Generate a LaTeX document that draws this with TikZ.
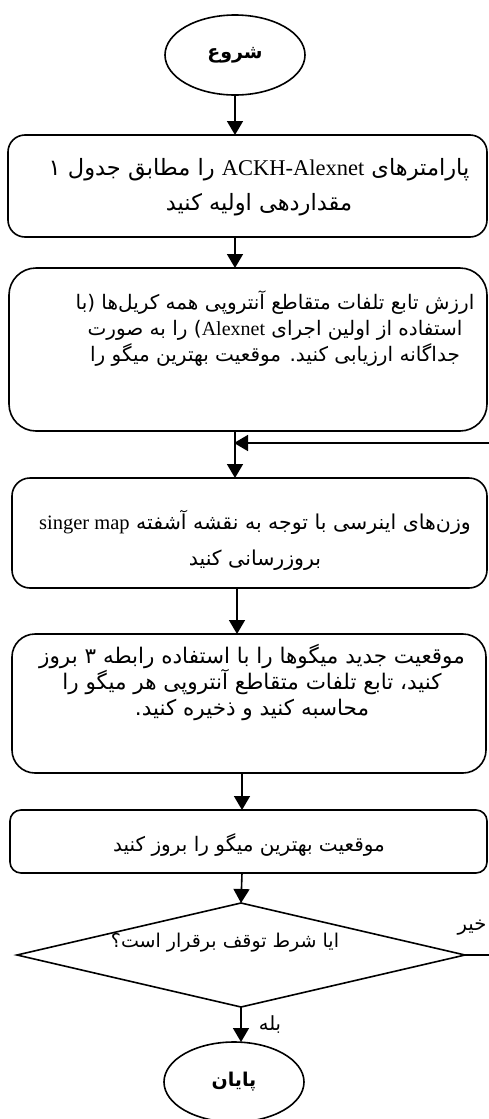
\documentclass[tikz,border=0pt]{standalone}
\usepackage{fontspec}
\setmainfont{Liberation Serif}
\newfontfamily\fa[Script=Arabic]{DejaVu Sans}
\TeXXeTstate=1
\usetikzlibrary{arrows.meta,shapes.geometric}
% Latin run inside a right-to-left line
\newcommand\lat[1]{\beginL{\rmfamily #1}\endL}

\tikzset{
  every node/.style={inner sep=0pt, outer sep=0pt},
  stepbox/.style={draw, line width=1.6pt, rounded corners=#1},
  terminal/.style={draw, line width=1.6pt, ellipse, minimum width=140pt, minimum height=80pt,
                   font=\fa\bfseries\fontsize{19}{22}\selectfont},
  decision/.style={draw, line width=1.6pt, diamond, minimum width=448pt, minimum height=104pt},
  txt/.style={align=center, font=\fa\fontsize{#1}{26}\selectfont},
  txt/.default=20.5,
  lbl/.style={font=\fa\fontsize{19.5}{22}\selectfont},
  arr/.style={line width=1.6pt, -{Triangle[width=16pt,length=14pt]}}
}

\begin{document}
\begin{tikzpicture}[x=1pt, y=-1pt]
  \path[clip] (0,0) rectangle (489,1119);
  \fill[white] (0,0) rectangle (489,1119);

  % column the main arrows run along
  \coordinate (axis) at (235,0);
  \coordinate (axisb) at (242,0);

  % terminals
  \node[terminal] (start) at (235,55) {\beginR شروع\endR};
  \node[terminal] (stop) at (234,1082) {\beginR پایان\endR};

  % process boxes
  \node[stepbox=17pt, minimum width=479pt, minimum height=102pt] (b1) at (247.5,186) {};
  \node[stepbox=27pt, minimum width=478pt, minimum height=163pt] (b2) at (248,349.5) {};
  \node[stepbox=18pt, minimum width=475pt, minimum height=110pt] (b3) at (249.5,533) {};
  \node[stepbox=23pt, minimum width=474pt, minimum height=139pt] (b4) at (249,703.5) {};
  \node[stepbox=11pt, minimum width=477pt, minimum height=63pt] (b5) at (248.5,841.5) {};

  % texts of the boxes
  \node[txt=22.5] (t1) at (259,187.5)
    {\beginR پارامترهای \lat{ACKH-Alexnet} را مطابق جدول ۱\endR\\[9pt]
     \beginR مقداردهی اولیه کنید\endR};
  \node[txt=20] (t2) at (275,329)
    {\beginR ارزش تابع تلفات متقاطع آنتروپی همه کریل^^^^200cها (با\endR\\
     \beginR استفاده از اولین اجرای \lat{Alexnet}) را به صورت\endR\\
     \beginR جداگانه ارزیابی کنید. موقعیت بهترین میگو را\endR};
  \node[txt=20.5] (t3) at (255,540)
    {\beginR وزن^^^^200cهای اینرسی با توجه به نقشه آشفته \lat{singer map}\endR\\[10pt]
     \beginR بروزرسانی کنید\endR};
  \node[txt=21.5] (t4) at (252,682)
    {\beginR موقعیت جدید میگوها را با استفاده رابطه ۳ بروز\endR\\
     \beginR کنید، تابع تلفات متقاطع آنتروپی هر میگو را\endR\\
     \beginR محاسبه کنید و ذخیره کنید.\endR};
  \node[txt=20] (t5) at (249,845)
    {\beginR موقعیت بهترین میگو را بروز کنید\endR};

  % decision
  \node[decision] (dec) at (241,955) {};
  \node[txt=19] (t6) at (225,943) {\beginR ایا شرط توقف برقرار است؟\endR};

  % branch labels
  \node[lbl] (no) at (472,928) {\beginR خیر\endR};
  \node[lbl] (yes) at (270,1025) {\beginR بله\endR};

  % connectors
  \draw[arr] (start.south) -- (start.south |- b1.north);
  \draw[arr] (b1.south -| axis) -- (b2.north -| axis);
  \draw[arr] (b2.south -| axis) -- (b3.north -| axis);
  \draw[arr] ([xshift=2pt]b3.south -| axis) -- ([xshift=2pt]b4.north -| axis);
  \draw[arr] (b4.south -| axisb) -- (b5.north -| axisb);
  \draw[arr] (b5.south -| axisb) -- (dec.north);
  \draw[arr] (dec.south) -- (dec.south |- stop.north);

  % loop back from the decision to the update step
  \coordinate (back) at (235,443);
  \draw[arr] (dec.east) -- (500,955) -- (500,443) -- ([xshift=-1pt]back);
\end{tikzpicture}
\end{document}
